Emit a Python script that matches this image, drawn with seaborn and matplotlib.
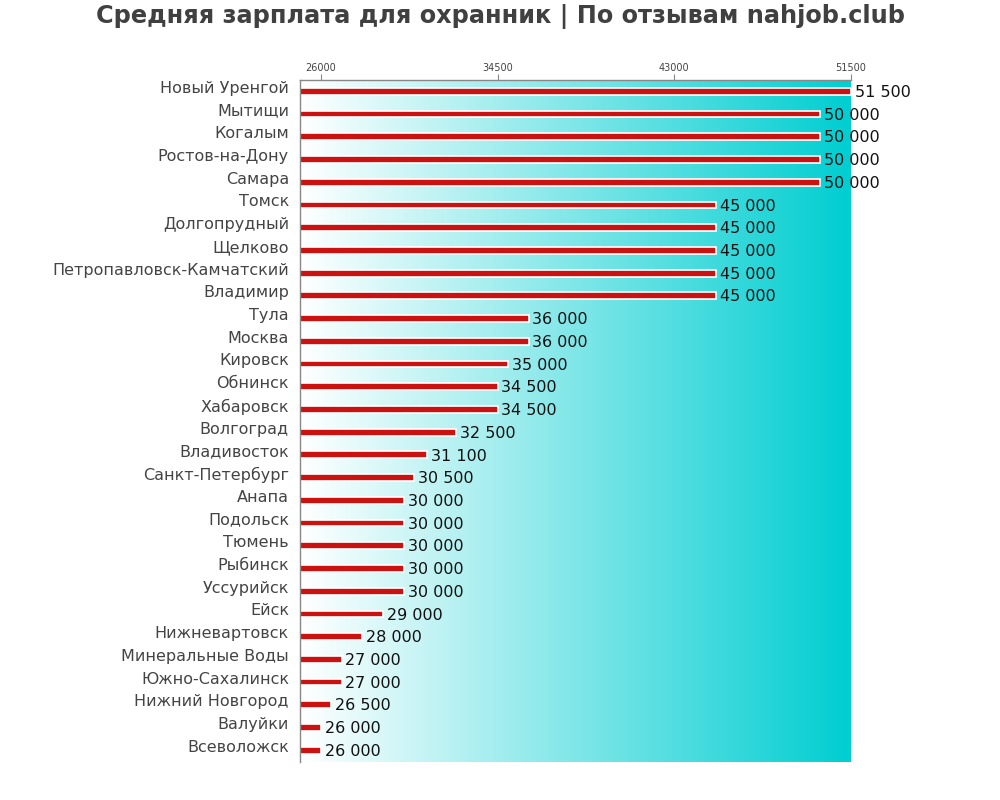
import numpy as np
import pandas as pd
import matplotlib
matplotlib.use("Agg")
import matplotlib.pyplot as plt
import matplotlib.transforms as mtransforms
from matplotlib.colors import LinearSegmentedColormap
import seaborn as sns

cities = ["Новый Уренгой", "Мытищи", "Когалым", "Ростов-на-Дону", "Самара", "Томск",
          "Долгопрудный", "Щелково", "Петропавловск-Камчатский", "Владимир", "Тула",
          "Москва", "Кировск", "Обнинск", "Хабаровск", "Волгоград", "Владивосток",
          "Санкт-Петербург", "Анапа", "Подольск", "Тюмень", "Рыбинск", "Уссурийск",
          "Ейск", "Нижневартовск", "Минеральные Воды", "Южно-Сахалинск",
          "Нижний Новгород", "Валуйки", "Всеволожск"]
salaries = [51500, 50000, 50000, 50000, 50000, 45000, 45000, 45000, 45000, 45000,
            36000, 36000, 35000, 34500, 34500, 32500, 31100, 30500, 30000, 30000,
            30000, 30000, 30000, 29000, 28000, 27000, 27000, 26500, 26000, 26000]
xticks = [26000, 34500, 43000, 51500]
xmin, xmax = 25000, 51500

df = pd.DataFrame({"city": cities, "salary": salaries})

sns.set_style("white")
plt.rcParams['font.family'] = ['DejaVu Sans']

fig = plt.figure(figsize=(10, 8), dpi=100)
ax = fig.add_axes([0.300, 0.048, 0.551, 0.852])

cmap = LinearSegmentedColormap.from_list("g", ["#ffffff", "#00ced1"])
grad = np.linspace(0, 1, 256).reshape(1, -1)
n = len(cities)

sns.barplot(data=df, x="salary", y="city", orient="h", color="#cc1111",
            width=0.3, edgecolor="white", linewidth=1.2, saturation=1, ax=ax, zorder=2)
ax.imshow(grad, cmap=cmap, aspect="auto", extent=[xmin, xmax, n - 0.5, -0.5], zorder=0)

ax.set_xlim(xmin, xmax)
ax.set_ylim(n - 0.5, -0.5)
ax.set_xticks(xticks)
ax.set_xticklabels([str(t) for t in xticks], fontsize=7, color="#444444")
ax.xaxis.tick_top()
ax.tick_params(axis="x", length=4, color="#888888", pad=1, top=True, bottom=False)
ax.tick_params(axis="y", length=0, pad=8)
ax.set_yticklabels(cities, fontsize=11.5, color="#444444", va="center")
shift = mtransforms.ScaledTranslation(0, 3 / 100, fig.dpi_scale_trans)
for lbl in ax.get_yticklabels():
    lbl.set_transform(lbl.get_transform() + shift)
ax.set_xlabel("")
ax.set_ylabel("")
for s in ["right", "bottom"]:
    ax.spines[s].set_visible(False)
for s in ["top", "left"]:
    ax.spines[s].set_color("#888888")
    ax.spines[s].set_linewidth(1)

for i, v in enumerate(salaries):
    ax.text(v + 180, i + 0.05, f"{v:,}".replace(",", " "), va="center", ha="left",
            fontsize=11.5, color="#111111", zorder=3, clip_on=False)

fig.text(0.5, 0.979, "Средняя зарплата для охранник | По отзывам nahjob.club",
         ha="center", va="center", fontsize=17.3, fontweight="bold", color="#404040")

fig.savefig("out.png", dpi=100)
